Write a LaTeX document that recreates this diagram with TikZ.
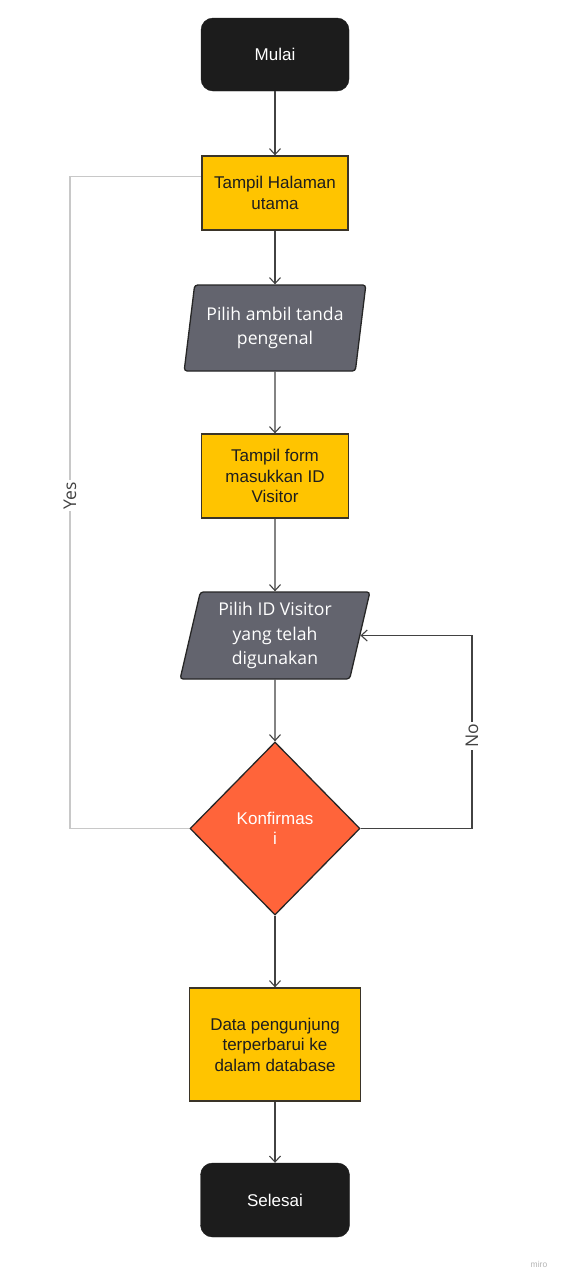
\documentclass[tikz,border=0pt]{standalone}
\usepackage{fontspec}
\setmainfont{Liberation Sans}
\newfontfamily\osans{Open Sans}
\usetikzlibrary{shapes.geometric,arrows.meta,calc}
\definecolor{termc}{HTML}{1C1C1C}
\definecolor{yel}{HTML}{FFC400}
\definecolor{ybord}{HTML}{3A3428}
\definecolor{txtc}{HTML}{1E1E1E}
\definecolor{grayio}{HTML}{63646E}
\definecolor{orng}{HTML}{FF643A}
\definecolor{linec}{HTML}{424242}
\definecolor{yesc}{HTML}{C8C8C8}
\definecolor{miroc}{HTML}{B4B4B4}
\begin{document}
\begin{tikzpicture}[x=1pt,y=-1pt,
  term/.style={rounded corners=12pt, fill=termc, draw=termc, text=white,
    minimum width=148pt, minimum height=73pt, inner sep=0pt,
    font=\fontsize{17}{21}\selectfont},
  proc/.style={fill=yel, draw=ybord, line width=1.3pt, text=txtc, align=center,
    inner sep=0pt, font=\fontsize{17}{20.5}\selectfont},
  io/.style={trapezium, trapezium left angle=78, trapezium right angle=102,
    trapezium stretches=true, fill=grayio, draw=black!85, line width=1.3pt,
    rounded corners=3pt, text=white, align=center, inner sep=0pt,
    minimum width=182pt, minimum height=86pt,
    font=\osans\fontsize{17.6}{24.5}\selectfont},
  dec/.style={diamond, fill=orng, draw=black!85, line width=1.3pt, text=white,
    align=center, inner sep=0pt, minimum width=170pt, minimum height=173pt,
    font=\fontsize{17}{20}\selectfont},
  arr/.style={draw=linec, line width=1.4pt, -{Straight Barb[length=6pt,width=11pt,line width=1.1pt]}},
  yesline/.style={draw=yesc, line width=1.4pt},
  lbl/.style={fill=white, text=linec, rotate=90, inner sep=2pt,
    font=\osans\fontsize{17.5}{19}\selectfont}
]
\useasboundingbox[fill=white] (0,0) rectangle (560,1280);

\node[term] (start) at (275,54.5) {Mulai};
\node[proc, minimum width=146pt, minimum height=74pt] (t1) at (275,193) {Tampil Halaman\\utama};
\node[io] (p1) at (275,328) {Pilih ambil tanda\\pengenal};
\node[proc, minimum width=147pt, minimum height=84pt] (t2) at (275,476) {Tampil form\\masukkan ID\\Visitor};
\node[io, trapezium left angle=77, trapezium right angle=103, minimum width=190pt, minimum height=87pt] (p2) at (275,635.5) {Pilih ID Visitor\\yang telah\\digunakan};
\node[dec] (d) at (275,828.5) {Konfirmas\\i};
\node[proc, minimum width=171pt, minimum height=113pt] (t3) at (275,1044.5) {Data pengunjung\\terperbarui ke\\dalam database};
\node[term, minimum width=149pt, minimum height=74pt] (end) at (275,1200) {Selesai};

\coordinate (nr) at (472,828.5);
\coordinate (yl) at (70,828.5);

\draw[arr] (start) -- (t1);
\draw[arr] (t1) -- (p1);
\draw[arr] (p1) -- (t2);
\draw[arr] (t2) -- (p2);
\draw[arr] (p2) -- (d);
\draw[arr] (d) -- (t3);
\draw[arr] (t3) -- (end);

\draw[arr] (d.east) -- (nr) |- node[lbl, pos=0.24] {No} (p2.east);
\draw[yesline] (d.west) -- (yl) |- node[lbl, pos=0.255] {Yes} ($(t1.north west)!0.28!(t1.south west)$);

\node[text=miroc, font=\fontsize{8.5}{9}\selectfont, inner sep=0pt] (miro) at (539,1264) {miro};
\end{tikzpicture}
\end{document}
